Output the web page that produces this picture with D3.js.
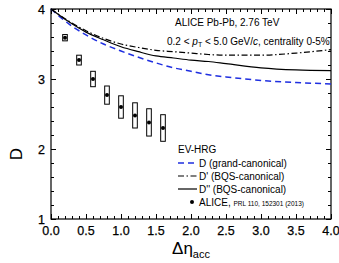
<!DOCTYPE html>
<html>
<head>
<meta charset="UTF-8">
<title>D vs eta acc</title>
<style>
  body { margin: 0; background: white; }
  svg { font-family: "Liberation Sans", Arial, sans-serif; }
</style>
<script src="https://cdnjs.cloudflare.com/ajax/libs/d3/7.8.5/d3.min.js"></script>
</head>
<body>
<div id="chart"></div>
<script>
// curves (EV-HRG)
const curveX = [0, 0.25, 0.5, 0.75, 1.0, 1.25, 1.5, 1.75, 2.0, 2.25, 2.5, 3.0, 3.5, 4.0];
const dGrand = [4.0, 3.79, 3.63, 3.50, 3.40, 3.31, 3.23, 3.16, 3.11, 3.06, 3.03, 2.98, 2.95, 2.93];
const dPrime = [4.0, 3.83, 3.69, 3.58, 3.50, 3.45, 3.41, 3.39, 3.37, 3.35, 3.34, 3.34, 3.37, 3.42];
const dDouble = [4.0, 3.82, 3.67, 3.56, 3.46, 3.39, 3.33, 3.30, 3.27, 3.25, 3.22, 3.16, 3.13, 3.12];

// ALICE data
const aliceX = [0.2, 0.4, 0.6, 0.8, 1.0, 1.2, 1.4, 1.6];
const aliceD = [3.59, 3.27, 3.00, 2.77, 2.60, 2.48, 2.38, 2.30];
const aliceSys = [0.045, 0.07, 0.11, 0.13, 0.16, 0.18, 0.195, 0.19];

const xTicks = [0, 0.5, 1.0, 1.5, 2.0, 2.5, 3.0, 3.5, 4.0];
const yTicks = [1, 2, 3, 4];

const width = 339, height = 263;
const svg = d3.select("#chart").append("svg")
  .attr("width", width).attr("height", height);

const x = d3.scaleLinear().domain([0, 4]).range([51, 331]);
const y = d3.scaleLinear().domain([1, 4]).range([219, 9]);

// ticks, inward on all sides
const xMinor = d3.range(0, 4.0001, 0.1);
const yMinor = d3.range(1, 4.0001, 0.2);
const ax = svg.append("g").attr("stroke", "#000").attr("stroke-width", 1);
xMinor.forEach(v => {
  const major = Math.abs(v * 2 - Math.round(v * 2)) < 1e-6;
  const len = major ? 5 : 3;
  const px = Math.round(x(v)) + 0.5;
  ax.append("line").attr("x1", px).attr("x2", px).attr("y1", y(1)).attr("y2", y(1) - len);
  ax.append("line").attr("x1", px).attr("x2", px).attr("y1", y(4)).attr("y2", y(4) + len);
});
yMinor.forEach(v => {
  const major = Math.abs(v - Math.round(v)) < 1e-6;
  const len = major ? 5 : 3;
  const py = Math.round(y(v)) + 0.5;
  ax.append("line").attr("x1", x(0)).attr("x2", x(0) + len).attr("y1", py).attr("y2", py);
  ax.append("line").attr("x1", x(4)).attr("x2", x(4) - len).attr("y1", py).attr("y2", py);
});

svg.append("rect")
  .attr("x", x(0)).attr("y", y(4))
  .attr("width", x(4) - x(0)).attr("height", y(1) - y(4))
  .attr("fill", "none").attr("stroke", "#000").attr("stroke-width", 1.2);

// tick labels
svg.append("g").selectAll("text").data(xTicks).join("text")
  .attr("x", d => x(d)).attr("y", 235)
  .attr("text-anchor", "middle").attr("font-size", 12.5)
  .attr("stroke", "#000").attr("stroke-width", 0.25)
  .text(d => d.toFixed(1));
svg.append("g").selectAll("text").data(yTicks).join("text")
  .attr("x", 45).attr("y", d => y(d) + 4.5)
  .attr("text-anchor", "end").attr("font-size", 12.5)
  .attr("stroke", "#000").attr("stroke-width", 0.25)
  .text(d => d);

// axis titles
svg.append("text")
  .attr("transform", "translate(22,154) rotate(-90)")
  .attr("text-anchor", "middle").attr("font-size", 17)
  .text("D");
const xt = svg.append("text")
  .attr("x", 191).attr("y", 254)
  .attr("text-anchor", "middle").attr("font-size", 17);
xt.append("tspan").text("Δη");
xt.append("tspan").attr("font-size", 11).attr("dy", 4).text("acc");

// curves
const line = d3.line().x(d => x(d[0])).y(d => y(d[1])).curve(d3.curveMonotoneX);
const curves = [
  { vals: dGrand, color: "#1f2fe0", dash: "6,4", w: 1.5 },
  { vals: dPrime, color: "#000", dash: "6,2.5,1.5,2.5", w: 1.2 },
  { vals: dDouble, color: "#000", dash: null, w: 1.2 }
];
curves.forEach(c => {
  svg.append("path")
    .datum(curveX.map((v, i) => [v, c.vals[i]]))
    .attr("d", line)
    .attr("fill", "none").attr("stroke", c.color)
    .attr("stroke-width", c.w)
    .attr("stroke-dasharray", c.dash);
});

// ALICE data: systematic boxes + points
const pts = aliceX.map((v, i) => ({ x: v, d: aliceD[i], e: aliceSys[i] }));
svg.append("g").selectAll("rect").data(pts).join("rect")
  .attr("x", d => x(d.x - 0.033)).attr("y", d => y(d.d + d.e))
  .attr("width", d => x(d.x + 0.033) - x(d.x - 0.033))
  .attr("height", d => y(d.d - d.e) - y(d.d + d.e))
  .attr("fill", "white").attr("stroke", "#000").attr("stroke-width", 1);
svg.append("g").selectAll("circle").data(pts).join("circle")
  .attr("cx", d => x(d.x)).attr("cy", d => y(d.d))
  .attr("r", 2).attr("fill", "#000");

// annotation
svg.append("text").attr("x", 175).attr("y", 26).attr("font-size", 10)
  .text("ALICE Pb-Pb, 2.76 TeV");
const t2 = svg.append("text").attr("x", 167).attr("y", 45).attr("font-size", 10);
t2.append("tspan").text("0.2 < ");
t2.append("tspan").attr("font-style", "italic").text("p");
t2.append("tspan").attr("font-size", 7).attr("dy", 2).text("T");
t2.append("tspan").attr("dy", -2).text(" < 5.0 GeV/");
t2.append("tspan").attr("font-style", "italic").text("c");
t2.append("tspan").text(", centrality 0-5%");

// legend
const lg = svg.append("g").attr("font-size", 10);
lg.append("text").attr("x", 178).attr("y", 153).text("EV-HRG");
const legRows = [
  { label: "D (grand-canonical)", c: curves[0], yy: 163 },
  { label: "D' (BQS-canonical)", c: curves[1], yy: 176 },
  { label: "D'' (BQS-canonical)", c: curves[2], yy: 189 }
];
legRows.forEach(r => {
  lg.append("line").attr("x1", 178).attr("x2", 197).attr("y1", r.yy).attr("y2", r.yy)
    .attr("stroke", r.c.color).attr("stroke-width", r.c.w)
    .attr("stroke-dasharray", r.c.dash);
  lg.append("text").attr("x", 199).attr("y", r.yy + 3.5).text(r.label);
});
lg.append("circle").attr("cx", 192).attr("cy", 202).attr("r", 2).attr("fill", "#000");
const al = lg.append("text").attr("x", 199).attr("y", 205.5);
al.append("tspan").text("ALICE, ");
al.append("tspan").attr("font-size", 6.5).text("PRL 110, 152301 (2013)");
</script>
</body>
</html>
